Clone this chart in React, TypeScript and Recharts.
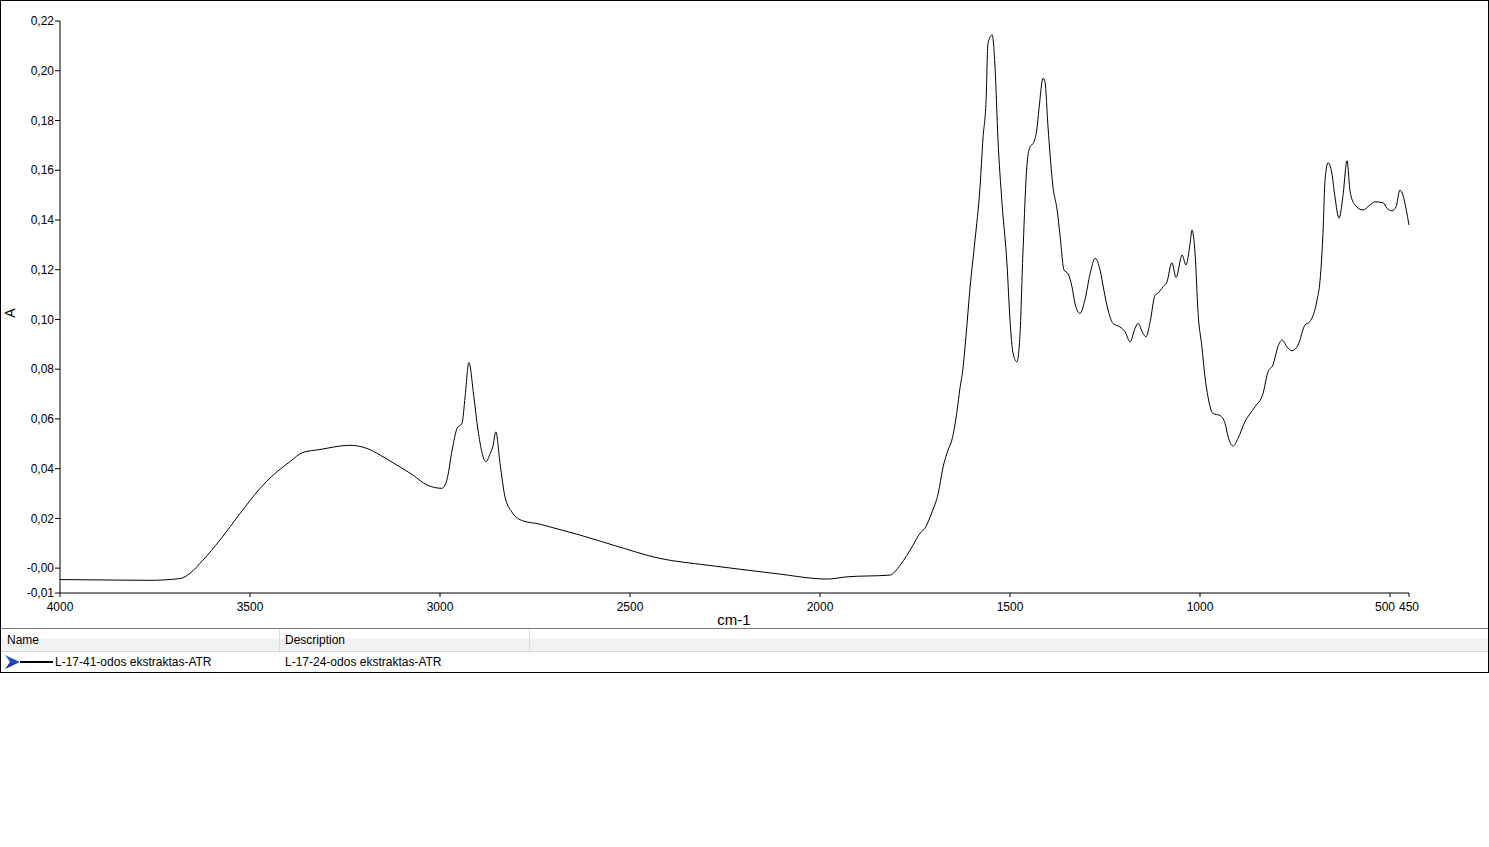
import React from "react";
import { LineChart, Line, XAxis, YAxis } from "recharts";

// spectrum: wavenumber (cm-1) and absorbance
const wavenumbers = [
  4000, 3855, 3763, 3684, 3658, 3624, 3579, 3526, 3474, 3439, 3395, 3361, 3316, 3237, 3192, 3158,
  3124, 3071, 3034, 2995, 2982, 2968, 2955, 2942, 2934, 2924, 2911, 2900, 2879, 2868, 2861, 2853,
  2842, 2829, 2811, 2782, 2737, 2711, 2632, 2545, 2421, 2297, 2192, 2105, 2018, 1982, 1929, 1816,
  1789, 1755, 1737, 1724, 1705, 1689, 1676, 1663, 1653, 1639, 1632, 1624, 1616, 1605, 1592, 1579,
  1571, 1563, 1558, 1547, 1539, 1532, 1521, 1508, 1500, 1492, 1482, 1474, 1466, 1455, 1447, 1439,
  1429, 1424, 1413, 1408, 1400, 1387, 1376, 1368, 1358, 1347, 1337, 1329, 1316, 1303, 1289, 1276,
  1263, 1253, 1242, 1229, 1211, 1197, 1184, 1171, 1163, 1150, 1142, 1132, 1118, 1111, 1097, 1087,
  1074, 1063, 1047, 1037, 1026, 1021, 1013, 1005, 995, 987, 979, 966, 947, 934, 926, 913,
  900, 882, 855, 834, 821, 808, 795, 784, 771, 758, 742, 724, 711, 692, 684, 676,
  671, 663, 653, 645, 634, 624, 613, 605, 592, 571, 553, 539, 518, 508, 495, 484,
  474, 466, 458, 450,
];

const absorbance = [
  -0.0046, -0.0048, -0.0049, -0.0042, -0.0021, 0.0032, 0.0113, 0.022, 0.032, 0.0374, 0.0428, 0.0465, 0.0477, 0.0494, 0.0481, 0.0455,
  0.0424, 0.0374, 0.0334, 0.0321, 0.0354, 0.0475, 0.0562, 0.0583, 0.0688, 0.0827, 0.069, 0.0555, 0.0428, 0.0461, 0.0488, 0.0548,
  0.0421, 0.0287, 0.0226, 0.019, 0.0177, 0.0166, 0.0133, 0.0093, 0.0039, 0.0012, -0.0008, -0.0024, -0.0041, -0.0044, -0.0035, -0.0028,
  0.0012, 0.0093, 0.014, 0.016, 0.0226, 0.03, 0.0407, 0.0475, 0.0515, 0.0636, 0.072, 0.08, 0.093, 0.113, 0.132, 0.153,
  0.173, 0.188, 0.211, 0.2144, 0.2003, 0.1735, 0.1467, 0.1225, 0.0998, 0.0864, 0.083, 0.093, 0.1266, 0.1628, 0.1695, 0.1708,
  0.1769, 0.1842, 0.197, 0.1956, 0.1775, 0.1534, 0.144, 0.1333, 0.1199, 0.1183, 0.1132, 0.1065, 0.1024, 0.1078, 0.1185, 0.1246,
  0.1199, 0.1118, 0.1038, 0.0984, 0.097, 0.095, 0.091, 0.0964, 0.0984, 0.0944, 0.093, 0.0984, 0.1098, 0.1105, 0.1132, 0.1151,
  0.1228, 0.1169, 0.1259, 0.1219, 0.1306, 0.136, 0.1266, 0.1024, 0.089, 0.077, 0.0689, 0.0622, 0.0613, 0.0582, 0.0528, 0.0491,
  0.0522, 0.0588, 0.0649, 0.0703, 0.079, 0.0817, 0.089, 0.0917, 0.089, 0.0874, 0.0897, 0.0977, 0.0991, 0.1078, 0.1158, 0.136,
  0.156, 0.163, 0.1588, 0.1494, 0.1407, 0.1494, 0.1638, 0.1514, 0.146, 0.144, 0.146, 0.1473, 0.1469, 0.1447, 0.1437, 0.1453,
  0.152, 0.15, 0.1447, 0.138,
];

const xTicks = [4000, 3500, 3000, 2500, 2000, 1500, 1000, 500, 450];
const yTicks = [-0.01, 0, 0.02, 0.04, 0.06, 0.08, 0.1, 0.12, 0.14, 0.16, 0.18, 0.2, 0.22];

const seriesName = "L-17-41-odos ekstraktas-ATR";
const seriesDescription = "L-17-24-odos ekstraktas-ATR";

const data = wavenumbers.map((wn, i) => ({ wn, a: absorbance[i] }));

const font = "'Liberation Sans', Arial, sans-serif";

const fmtY = (v: number) => (Math.abs(v) < 1e-9 ? "-0,00" : v.toFixed(2).replace(".", ","));

// 500 and 450 sit close together, so the 500 label is pushed left a bit
function XTick(props: any) {
  const { x, y, payload } = props;
  const shift = payload.value === 500 ? -5 : 0;
  return (
    <text x={x + shift} y={y + 3} dy="0.71em" textAnchor="middle" fill="#000" fontSize={12} fontFamily={font}>
      {payload.value}
    </text>
  );
}

export default function App() {
  return (
    <div style={{ position: "absolute", left: 0, top: 0, width: 1489, height: 847, background: "#fff", fontFamily: font }}>
      <div style={{ position: "absolute", left: 0, top: 0 }}>
        <LineChart width={1489} height={628} data={data} margin={{ top: 21, right: 80, bottom: 5, left: 10 }}>
          <XAxis
            dataKey="wn"
            type="number"
            domain={[450, 4000]}
            reversed
            ticks={xTicks}
            interval={0}
            height={30}
            stroke="#000"
            tickSize={4}
            tick={<XTick />}
          />
          <YAxis
            type="number"
            domain={[-0.01, 0.22]}
            ticks={yTicks}
            interval={0}
            width={50}
            stroke="#000"
            tickSize={5}
            tickMargin={1}
            tickFormatter={fmtY}
            tick={{ fill: "#000", fontSize: 12, fontFamily: font }}
          />
          <Line
            dataKey="a"
            type="monotone"
            stroke="#000"
            strokeWidth={1}
            dot={false}
            isAnimationActive={false}
          />
        </LineChart>
      </div>

      {/* axis titles */}
      <div style={{ position: "absolute", left: 2, top: 305, width: 16, height: 16, fontSize: 14, transform: "rotate(-90deg)", lineHeight: "16px", textAlign: "center" }}>
        A
      </div>
      <div style={{ position: "absolute", left: 700, top: 611, width: 68, fontSize: 15, textAlign: "center", lineHeight: "18px" }}>
        cm-1
      </div>

      {/* legend table */}
      <div style={{ position: "absolute", left: 0, top: 628, width: 1489, height: 1, background: "#7a7a7a" }} />
      <div
        style={{
          position: "absolute",
          left: 0,
          top: 629,
          width: 1489,
          height: 22,
          background: "linear-gradient(to bottom, #ffffff 0%, #ffffff 40%, #f2f3f5 45%, #f0f1f3 100%)",
        }}
      />
      <div style={{ position: "absolute", left: 0, top: 651, width: 1489, height: 1, background: "#d6d6d6" }} />
      <div style={{ position: "absolute", left: 279, top: 629, width: 1, height: 22, background: "#dadada" }} />
      <div style={{ position: "absolute", left: 529, top: 629, width: 1, height: 22, background: "#dadada" }} />
      <div style={{ position: "absolute", left: 7, top: 633, fontSize: 12, lineHeight: "15px", color: "#000" }}>Name</div>
      <div style={{ position: "absolute", left: 285, top: 633, fontSize: 12, lineHeight: "15px", color: "#000" }}>Description</div>

      <svg style={{ position: "absolute", left: 0, top: 652 }} width={60} height={20}>
        <defs>
          <linearGradient id="arr" x1="0" y1="0" x2="0" y2="1">
            <stop offset="0" stopColor="#3a6cf0" />
            <stop offset="1" stopColor="#0a1f8c" />
          </linearGradient>
        </defs>
        <polygon points="5,3 20,10 5,17 10,10" fill="url(#arr)" />
        <line x1={20} y1={10} x2={53} y2={10} stroke="#000" strokeWidth={2} />
      </svg>
      <div style={{ position: "absolute", left: 55, top: 655, fontSize: 12, lineHeight: "15px", color: "#000" }}>{seriesName}</div>
      <div style={{ position: "absolute", left: 285, top: 655, fontSize: 12, lineHeight: "15px", color: "#000" }}>{seriesDescription}</div>

      {/* outer frame */}
      <div
        style={{
          position: "absolute",
          left: 0,
          top: 0,
          width: 1489,
          height: 673,
          border: "1px solid #000",
          boxSizing: "border-box",
          pointerEvents: "none",
        }}
      />
    </div>
  );
}
